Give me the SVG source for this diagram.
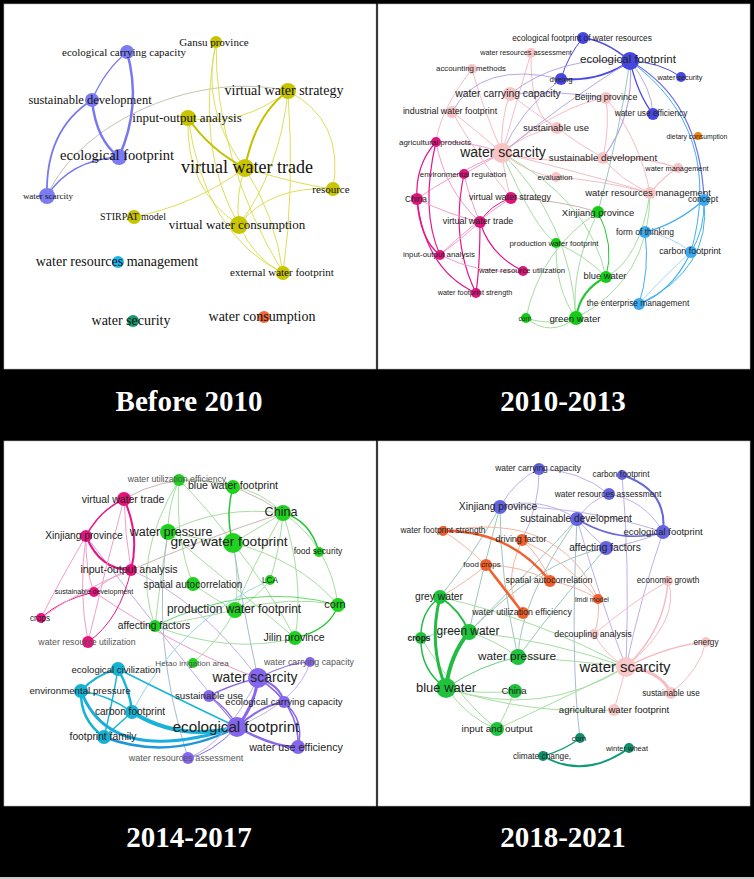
<svg xmlns="http://www.w3.org/2000/svg" width="754" height="879" viewBox="0 0 754 879">
<style>
.pn{fill:#fff;stroke:#bbb;stroke-width:0.6}
.lab{font-family:"Liberation Serif","Times New Roman",serif;font-weight:bold;font-size:29px;fill:#fff;text-anchor:middle}
.t1{font-family:"Liberation Serif","Times New Roman",serif;fill:#111;text-anchor:middle;dominant-baseline:central}
.t{font-family:"Liberation Sans",Arial,sans-serif;fill:#222;text-anchor:middle;dominant-baseline:central}
.tg{fill:#555}
path{fill:none;stroke-linecap:round}
.a1b{stroke:#7878f0}
.a1y{stroke:#dede58}
.a1Y{stroke:#c4c000}
.a1g{stroke:#c4c4ae}
.bl{stroke:#4a4ae6}
.pu{stroke:#a592e0;stroke-opacity:.8}
.pk{stroke:#f6bcc4}
.mg{stroke:#e6168a}
.lmg{stroke:#f29ccb}
.gr{stroke:#22c832}
.lgr{stroke:#a6dea0}
.lb{stroke:#40b0f0}
.llb{stroke:#a6d6f4}
.br{stroke:#cdb4b0}
.cy{stroke:#17b5d5}
.lcy{stroke:#98d8e8}
.pp{stroke:#8866ee}
.lpp{stroke:#c0b0e8}
.tl{stroke:#9cc8bc}
.or{stroke:#f06030}
.lor{stroke:#f6b4a2}
.g4{stroke:#22bb44}
.tq{stroke:#119a7a}
.gb{stroke:#a8bccc}
.c1b{fill:#7b7bf2}.c1y{fill:#c8c400}.c1c{fill:#1cb4ec}.c1t{fill:#139a6e}.c1o{fill:#f06a3c}
.c2b{fill:#4646e0}.c2p{fill:#f8c4c4}.c2m{fill:#e0147c}.c2o{fill:#f0840c}.c2g{fill:#14cc14}.c2l{fill:#3caaf0}
.c3m{fill:#e8127c}.c3g{fill:#1ed21e}.c3c{fill:#17b2d2}.c3p{fill:#8466ee}
.c4b{fill:#6464e0}.c4o{fill:#f0602c}.c4g{fill:#1ec23c}.c4p{fill:#f8c8c8}.c4t{fill:#0e8e6a}
</style>
<rect x="0" y="0" width="754" height="879" fill="#000"/>
<rect class="pn" x="4" y="4" width="372" height="365"/>
<rect class="pn" x="378" y="4" width="372" height="365"/>
<rect class="pn" x="4" y="441" width="372" height="365"/>
<rect class="pn" x="378" y="441" width="372" height="365"/>
<rect x="0" y="877" width="754" height="2" fill="#ccc"/>
<text class="lab" x="189" y="411">Before 2010</text>
<text class="lab" x="563" y="411">2010-2013</text>
<text class="lab" x="189" y="847">2014-2017</text>
<text class="lab" x="563" y="847">2018-2021</text>

<g id="connectors">
<g id="edges-before-2010">
<path class="a1g" stroke-width="1" d="M47,196 C80,120 200,70 288,91"/>
<path class="a1b" stroke-width="2.5" d="M127,52 Q142,105 119,157"/>
<path class="a1b" stroke-width="2.5" d="M92,100 Q96,140 119,157"/>
<path class="a1b" stroke-width="1.2" d="M127,52 Q105,70 92,100"/>
<path class="a1b" stroke-width="1.8" d="M92,100 Q45,130 47,196"/>
<path class="a1b" stroke-width="1.4" d="M119,157 Q70,160 47,196"/>
<path class="a1y" stroke-width="1" d="M216,42 Q200,110 245,168"/>
<path class="a1y" stroke-width="1" d="M216,42 Q195,150 239,225"/>
<path class="a1y" stroke-width="1" d="M216,42 Q215,160 283,273"/>
<path class="a1y" stroke-width="1" d="M188,118 Q240,128 288,91"/>
<path class="a1Y" stroke-width="2" d="M188,118 Q210,150 245,168"/>
<path class="a1Y" stroke-width="2" d="M288,91 Q255,115 245,168"/>
<path class="a1y" stroke-width="1" d="M288,91 Q345,120 333,189"/>
<path class="a1y" stroke-width="1" d="M288,91 Q280,170 239,225"/>
<path class="a1y" stroke-width="1" d="M188,118 Q185,190 239,225"/>
<path class="a1y" stroke-width="1" d="M188,118 Q205,235 283,273"/>
<path class="a1y" stroke-width="1" d="M245,168 Q300,185 333,189"/>
<path class="a1y" stroke-width="1" d="M239,225 Q270,185 333,189"/>
<path class="a1y" stroke-width="1" d="M239,225 Q255,260 283,273"/>
<path class="a1y" stroke-width="1" d="M288,91 Q295,190 283,273"/>
<path class="a1y" stroke-width="1" d="M134,217 Q195,205 245,168"/>
<path class="a1y" stroke-width="1" d="M245,168 Q235,195 239,225"/>
<path class="a1y" stroke-width="1" d="M245,168 Q275,215 283,273"/>
</g>
<g id="edges-2010-2013">
<path class="pk" stroke-width="1" d="M502,153 Q500,120 510,94"/>
<path class="pk" stroke-width="1" d="M502,153 Q530,130 557,128"/>
<path class="pk" stroke-width="1.2" d="M502,153 Q555,165 603,158"/>
<path class="pk" stroke-width="1" d="M502,153 Q470,125 452,112"/>
<path class="pk" stroke-width="1" d="M502,153 Q480,100 472,69"/>
<path class="pk" stroke-width="1" d="M502,153 Q520,90 531,53"/>
<path class="pk" stroke-width="1" d="M502,153 Q560,105 606,98"/>
<path class="pk" stroke-width="1" d="M502,153 Q530,175 556,177"/>
<path class="pk" stroke-width="1" d="M502,153 Q505,180 511,198"/>
<path class="pk" stroke-width="1" d="M502,153 Q590,175 650,193"/>
<path class="lmg" stroke-width="1" d="M502,153 Q470,140 436,142"/>
<path class="lmg" stroke-width="1" d="M502,153 Q450,175 417,199"/>
<path class="lmg" stroke-width="1" d="M502,153 Q480,165 464,174"/>
<path class="pk" stroke-width="1.2" d="M603,158 Q640,155 678,168"/>
<path class="pk" stroke-width="1" d="M603,158 Q620,180 650,193"/>
<path class="pk" stroke-width="1" d="M603,158 Q610,125 606,98"/>
<path class="pk" stroke-width="1" d="M557,128 Q580,145 603,158"/>
<path class="pk" stroke-width="1" d="M510,94 Q530,110 557,128"/>
<path class="pk" stroke-width="1" d="M556,177 Q600,180 650,193"/>
<path class="pk" stroke-width="1.2" d="M650,193 Q665,175 678,168"/>
<path class="pk" stroke-width="1" d="M606,98 Q640,140 650,193"/>
<path class="pk" stroke-width="1" d="M531,53 Q530,120 557,128"/>
<path class="pk" stroke-width="1" d="M472,69 Q440,110 436,142"/>
<path class="pk" stroke-width="1" d="M452,112 Q480,160 511,198"/>
<path class="pu" stroke-width="1" d="M510,94 Q560,90 606,98"/>
<path class="bl" stroke-width="1.5" d="M630,61 Q605,40 583,38"/>
<path class="bl" stroke-width="2" d="M630,61 Q600,82 561,79"/>
<path class="bl" stroke-width="1" d="M583,38 Q568,55 561,79"/>
<path class="bl" stroke-width="1" d="M630,61 Q660,62 681,77"/>
<path class="bl" stroke-width="1.2" d="M630,61 Q638,95 653,114"/>
<path class="pu" stroke-width="1" d="M630,61 Q652,88 653,114"/>
<path class="bl" stroke-width="1.2" stroke-opacity=".8" d="M630,61 Q700,100 704,200"/>
<path class="lb" stroke-width="1" d="M630,61 Q725,130 691,252"/>
<path class="pu" stroke-width="1.2" d="M630,61 Q635,115 603,158"/>
<path class="tl" stroke-width="1" d="M630,61 Q620,130 598,212"/>
<path class="pu" stroke-width="1" d="M510,94 Q560,55 630,61"/>
<path class="pu" stroke-width="1" d="M561,79 Q520,110 502,153"/>
<path class="pu" stroke-width="1" d="M630,61 Q560,105 502,153"/>
<path class="pu" stroke-width="1" d="M561,79 Q480,60 452,112"/>
<path class="mg" stroke-width="1.2" d="M436,142 Q415,165 417,199"/>
<path class="lmg" stroke-width="1" d="M436,142 Q445,190 480,222"/>
<path class="mg" stroke-width="1.2" d="M436,142 Q420,210 440,255"/>
<path class="mg" stroke-width="1.2" d="M464,174 Q450,240 476,293"/>
<path class="lmg" stroke-width="1" d="M464,174 Q470,200 480,222"/>
<path class="mg" stroke-width="1.5" d="M417,199 Q420,240 440,255"/>
<path class="mg" stroke-width="1.2" d="M417,199 Q425,270 476,293"/>
<path class="lmg" stroke-width="1" d="M480,222 Q460,240 440,255"/>
<path class="mg" stroke-width="1.2" d="M480,222 Q490,255 523,271"/>
<path class="mg" stroke-width="1.2" d="M480,222 Q480,265 476,293"/>
<path class="mg" stroke-width="1" d="M511,198 Q490,205 480,222"/>
<path class="lmg" stroke-width="1" d="M511,198 Q470,225 440,255"/>
<path class="lmg" stroke-width="1" d="M440,255 Q480,275 523,271"/>
<path class="lmg" stroke-width="1" d="M417,199 Q450,215 480,222"/>
<path class="br" stroke-width="1" d="M511,198 Q560,200 598,212"/>
<path class="lgr" stroke-width="1" d="M598,212 Q570,270 576,318"/>
<path class="lgr" stroke-width="1" d="M598,212 Q540,250 526,318"/>
<path class="gr" stroke-width="1" d="M598,212 Q615,245 606,277"/>
<path class="gr" stroke-width="2" d="M606,277 Q580,290 576,318"/>
<path class="lgr" stroke-width="1" d="M556,243 Q585,255 606,277"/>
<path class="lgr" stroke-width="1" d="M556,243 Q555,290 576,318"/>
<path class="lgr" stroke-width="1.2" d="M526,318 Q550,326 576,318"/>
<path class="lgr" stroke-width="1" d="M526,318 Q550,338 576,318"/>
<path class="lgr" stroke-width="1" d="M502,153 Q570,220 576,318"/>
<path class="lgr" stroke-width="1" d="M502,153 Q590,200 606,277"/>
<path class="lgr" stroke-width="1" d="M502,153 Q535,230 556,243"/>
<path class="lgr" stroke-width="1" d="M650,193 Q640,260 606,277"/>
<path class="lgr" stroke-width="1" d="M650,193 Q650,280 576,318"/>
<path class="lb" stroke-width="1.5" d="M704,200 Q675,225 645,232"/>
<path class="lb" stroke-width="1" d="M704,200 Q705,230 691,252"/>
<path class="lb" stroke-width="1" d="M704,200 Q712,270 639,304"/>
<path class="lb" stroke-width="1" d="M645,232 Q650,270 639,304"/>
<path class="llb" stroke-width="1" d="M645,232 Q670,235 691,252"/>
<path class="lb" stroke-width="1.2" d="M691,252 Q672,292 639,304"/>
<path class="llb" stroke-width="1" d="M691,252 Q660,280 639,304"/>
</g>
<g id="edges-2014-2017">
<path class="br" stroke-width="1" d="M124,499 Q200,455 283,513"/>
<path class="br" stroke-width="1" d="M131,570 Q200,540 283,513"/>
<path class="lpp" stroke-width="1" d="M131,570 Q200,600 258,678"/>
<path class="lpp" stroke-width="1" d="M86,536 Q150,620 237,727"/>
<path class="lmg" stroke-width="1" d="M94,592 Q180,650 258,678"/>
<path class="lgr" stroke-width="1" d="M283,513 Q260,490 233,487"/>
<path class="lgr" stroke-width="1" d="M283,513 Q255,530 233,543"/>
<path class="lgr" stroke-width="1" d="M283,513 Q330,545 338,605"/>
<path class="lgr" stroke-width="1" d="M283,513 Q305,580 295,638"/>
<path class="lgr" stroke-width="1" d="M283,513 Q250,570 235,610"/>
<path class="lgr" stroke-width="1" d="M283,513 Q220,505 168,532"/>
<path class="lgr" stroke-width="1" d="M283,513 Q280,550 270,580"/>
<path class="lgr" stroke-width="1" d="M233,487 Q205,478 179,480"/>
<path class="lgr" stroke-width="1" d="M179,480 Q205,505 233,543"/>
<path class="lgr" stroke-width="1" d="M179,480 Q168,505 168,532"/>
<path class="lgr" stroke-width="1" d="M179,480 Q175,540 193,584"/>
<path class="lgr" stroke-width="1" d="M233,543 Q240,580 235,610"/>
<path class="lgr" stroke-width="1" d="M233,543 Q300,560 338,605"/>
<path class="lgr" stroke-width="1" d="M233,543 Q270,590 295,638"/>
<path class="lgr" stroke-width="1" d="M235,610 Q190,620 155,626"/>
<path class="lgr" stroke-width="1" d="M235,610 Q290,595 338,605"/>
<path class="lgr" stroke-width="1" d="M155,626 Q230,655 295,638"/>
<path class="lgr" stroke-width="1" d="M193,584 Q215,600 235,610"/>
<path class="lgr" stroke-width="1" d="M168,532 Q200,540 233,543"/>
<path class="lgr" stroke-width="1" d="M168,532 Q160,580 155,626"/>
<path class="lgr" stroke-width="1" d="M270,580 Q255,600 235,610"/>
<path class="lgr" stroke-width="1" d="M193,663 Q220,640 235,610"/>
<path class="lgr" stroke-width="1" d="M168,532 Q250,600 295,638"/>
<path class="lgr" stroke-width="1" d="M179,480 Q130,560 155,626"/>
<path class="gb" stroke-width="1" d="M233,543 Q245,620 258,678"/>
<path class="gb" stroke-width="1" d="M168,532 Q150,640 188,758"/>
<path class="gr" stroke-width="1.5" d="M283,513 Q310,520 319,552"/>
<path class="gr" stroke-width="1.5" d="M233,487 Q225,515 233,543"/>
<path class="gr" stroke-width="1.2" d="M338,605 Q330,630 295,638"/>
<path class="gr" stroke-width="1" stroke-opacity=".7" d="M155,626 Q250,580 338,605"/>
<path class="mg" stroke-width="1.5" d="M124,499 Q100,510 86,536"/>
<path class="mg" stroke-width="2" d="M124,499 Q140,535 131,570"/>
<path class="lmg" stroke-width="1" d="M124,499 Q125,535 131,570"/>
<path class="mg" stroke-width="2" d="M86,536 Q100,570 131,570"/>
<path class="lmg" stroke-width="1" d="M86,536 Q78,590 88,642"/>
<path class="lmg" stroke-width="1" d="M86,536 Q85,570 94,592"/>
<path class="lmg" stroke-width="1" d="M86,536 Q60,580 41,618"/>
<path class="lmg" stroke-width="1" d="M131,570 Q110,575 94,592"/>
<path class="mg" stroke-width="1" d="M131,570 Q120,620 88,642"/>
<path class="mg" stroke-width="1" d="M94,592 Q60,600 41,618"/>
<path class="lmg" stroke-width="1" d="M131,570 Q80,590 41,618"/>
<path class="lmg" stroke-width="1" d="M124,499 Q105,570 88,642"/>
<path class="lcy" stroke-width="1" d="M270,580 Q180,620 132,712"/>
<path class="cy" stroke-width="2" d="M118,669 Q95,675 81,691"/>
<path class="cy" stroke-width="2.5" d="M118,669 Q130,690 132,712"/>
<path class="cy" stroke-width="1.5" d="M118,669 Q112,705 104,737"/>
<path class="cy" stroke-width="2.5" d="M81,691 Q80,720 104,737"/>
<path class="cy" stroke-width="1.5" d="M81,691 Q108,695 132,712"/>
<path class="cy" stroke-width="1.5" d="M132,712 Q118,725 104,737"/>
<path stroke="#1aaee0" stroke-width="3" d="M81,691 Q110,768 237,727"/>
<path stroke="#1ab2d8" stroke-width="4" d="M132,712 Q180,742 237,727"/>
<path stroke="#1e96d8" stroke-width="2.5" d="M104,737 Q170,762 237,727"/>
<path class="cy" stroke-width="1.5" d="M118,669 Q180,700 237,727"/>
<path class="pp" stroke-width="3" d="M258,678 Q255,705 237,727"/>
<path class="pp" stroke-width="1.5" d="M258,678 Q230,685 209,696"/>
<path class="pp" stroke-width="2" d="M258,678 Q280,685 284,702"/>
<path class="pp" stroke-width="1.5" d="M258,678 Q300,705 298,747"/>
<path class="pp" stroke-width="2" d="M237,727 Q262,705 284,702"/>
<path class="pp" stroke-width="2.5" d="M237,727 Q275,748 298,747"/>
<path class="pp" stroke-width="1.5" d="M284,702 Q305,720 298,747"/>
<path class="pp" stroke-width="1" d="M258,678 Q290,662 310,662"/>
<path class="pp" stroke-width="1" d="M237,727 Q220,705 209,696"/>
<path class="pp" stroke-width="1" d="M237,727 Q210,755 188,758"/>
<path class="pp" stroke-width="1.5" d="M209,696 Q230,710 237,727"/>
<path class="lpp" stroke-width="1" d="M258,678 Q225,745 188,758"/>
<path class="lpp" stroke-width="1" d="M237,727 Q300,700 310,662"/>
</g>
<g id="edges-2018-2021">
<path class="lpp" stroke-width="1" d="M609,494 Q645,500 663,532"/>
<path class="lpp" stroke-width="1" d="M609,494 Q590,500 577,519"/>
<path class="lpp" stroke-width="1" d="M539,469 Q580,470 609,494"/>
<path class="lpp" stroke-width="1" d="M539,469 Q540,505 522,540"/>
<path class="lpp" stroke-width="1" d="M539,469 Q515,480 500,507"/>
<path class="lpp" stroke-width="1" d="M500,507 Q540,495 577,519"/>
<path class="lpp" stroke-width="1" d="M500,507 Q580,505 663,532"/>
<path class="lpp" stroke-width="1" d="M577,519 Q590,535 606,548"/>
<path class="lpp" stroke-width="1" d="M663,532 Q630,545 606,548"/>
<path class="lpp" stroke-width="1" d="M663,532 Q640,600 626,667"/>
<path class="lpp" stroke-width="1" d="M577,519 Q600,600 626,667"/>
<path class="lpp" stroke-width="1" d="M622,475 Q630,560 626,667"/>
<path class="tl" stroke-width="1" d="M500,507 Q470,560 440,597"/>
<path class="tl" stroke-width="1" d="M500,507 Q480,580 469,632"/>
<path class="tl" stroke-width="1" d="M500,507 Q500,580 518,657"/>
<path class="tl" stroke-width="1" d="M577,519 Q540,560 469,632"/>
<path class="tl" stroke-width="1" d="M577,519 Q520,600 518,657"/>
<path class="tl" stroke-width="1" d="M606,548 Q540,560 469,632"/>
<path class="tl" stroke-width="1" d="M606,548 Q560,600 518,657"/>
<path class="gb" stroke-width="1" d="M580,738 Q570,660 577,519"/>
<path class="lor" stroke-width="1" d="M443,531 Q490,560 523,613"/>
<path class="lor" stroke-width="1" d="M486,565 Q520,565 550,581"/>
<path class="lor" stroke-width="1" d="M522,540 Q540,555 550,581"/>
<path class="lor" stroke-width="1" d="M443,531 Q560,510 598,599"/>
<path class="lor" stroke-width="1" d="M522,540 Q565,560 598,599"/>
<path class="lor" stroke-width="1" d="M550,581 Q575,585 598,599"/>
<path class="lor" stroke-width="1" d="M598,599 Q600,620 594,634"/>
<path class="lor" stroke-width="1" d="M522,540 Q500,590 523,613"/>
<path class="lor" stroke-width="1" d="M486,565 Q470,580 440,597"/>
<path class="or" stroke-width="2.5" d="M443,531 Q510,530 550,581"/>
<path class="or" stroke-width="2.5" d="M486,565 Q505,590 523,613"/>
<path class="lgr" stroke-width="1" d="M421,638 Q445,630 469,632"/>
<path class="lgr" stroke-width="1" d="M469,632 Q495,640 518,657"/>
<path class="lgr" stroke-width="1" d="M446,688 Q470,720 497,729"/>
<path class="lgr" stroke-width="1" d="M515,691 Q505,715 497,729"/>
<path class="lgr" stroke-width="1" d="M446,688 Q540,720 626,667"/>
<path class="lgr" stroke-width="1" d="M518,657 Q570,660 626,667"/>
<path class="lgr" stroke-width="1" d="M469,632 Q550,640 626,667"/>
<path class="lgr" stroke-width="1" d="M440,597 Q540,620 626,667"/>
<path class="lgr" stroke-width="1" d="M446,688 Q480,695 515,691"/>
<path class="lgr" stroke-width="1" d="M421,638 Q460,700 497,729"/>
<path class="lgr" stroke-width="1" d="M497,729 Q560,700 626,667"/>
<path class="lgr" stroke-width="1" d="M446,688 Q530,715 614,710"/>
<path class="g4" stroke-width="1" stroke-opacity=".7" d="M518,657 Q480,665 446,688"/>
<path class="g4" stroke-width="3" d="M440,597 Q428,645 446,688"/>
<path class="g4" stroke-width="4" d="M469,632 Q450,655 446,688"/>
<path class="g4" stroke-width="2" d="M440,597 Q460,610 469,632"/>
<path class="g4" stroke-width="1.5" d="M421,638 Q420,670 446,688"/>
<path class="g4" stroke-width="1.5" d="M421,638 Q420,612 440,597"/>
<path class="pk" stroke-width="1.5" d="M626,667 Q665,630 668,581"/>
<path class="pk" stroke-width="1" d="M626,667 Q682,620 668,581"/>
<path class="pk" stroke-width="1.5" d="M626,667 Q670,645 706,642"/>
<path class="pk" stroke-width="3" d="M626,667 Q660,670 671,693"/>
<path class="pk" stroke-width="1" d="M626,667 Q605,655 594,634"/>
<path class="pk" stroke-width="1" d="M626,667 Q620,690 614,710"/>
<path class="pk" stroke-width="1" d="M594,634 Q635,600 668,581"/>
<path class="pk" stroke-width="1" d="M671,693 Q700,670 706,642"/>
<path class="c4bs" stroke="#6666dd" stroke-width="2" d="M622,475 Q668,490 663,532"/>
<path stroke="#6666dd" stroke-width="1.5" d="M577,519 Q620,545 663,532"/>
<path class="tq" stroke-width="2" d="M543,756 Q585,780 629,748"/>
<path class="tq" stroke-width="1.2" d="M543,756 Q565,750 580,738"/>
</g>
</g>

<g id="nodes-before-2010">
<g id="n1-ecological-carrying-capacity"><circle class="c1b" cx="127" cy="52" r="7"/><text class="t1" x="124" y="52" font-size="11">ecological carrying capacity</text></g>
<g id="n1-gansu-province"><circle class="c1y" cx="216" cy="42" r="6"/><text class="t1" x="214" y="42" font-size="11">Gansu province</text></g>
<g id="n1-virtual-water-strategy"><circle class="c1y" cx="288" cy="91" r="8"/><text class="t1" x="284" y="90" font-size="14">virtual water strategy</text></g>
<g id="n1-sustainable-development"><circle class="c1b" cx="92" cy="100" r="7"/><text class="t1" x="90" y="100" font-size="12.5">sustainable development</text></g>
<g id="n1-input-output-analysis"><circle class="c1y" cx="188" cy="118" r="8"/><text class="t1" x="187" y="117" font-size="13">input-output analysis</text></g>
<g id="n1-ecological-footprint"><circle class="c1b" cx="119" cy="157" r="8"/><text class="t1" x="117" y="155" font-size="14.5">ecological footprint</text></g>
<g id="n1-virtual-water-trade"><circle class="c1y" cx="245" cy="168" r="9"/><text class="t1" x="247" y="167" font-size="18">virtual water trade</text></g>
<g id="n1-resource"><circle class="c1y" cx="333" cy="189" r="7"/><text class="t1" x="331" y="189" font-size="11">resource</text></g>
<g id="n1-water-scarcity"><circle class="c1b" cx="47" cy="196" r="8"/><text class="t1" x="48" y="196" font-size="9">water scarcity</text></g>
<g id="n1-stirpat-model"><circle class="c1y" cx="134" cy="217" r="7"/><text class="t1" x="133" y="216" font-size="10">STIRPAT model</text></g>
<g id="n1-virtual-water-consumption"><circle class="c1y" cx="239" cy="225" r="9"/><text class="t1" x="237" y="224" font-size="13">virtual water consumption</text></g>
<g id="n1-water-resources-management"><circle class="c1c" cx="118" cy="262" r="6"/><text class="t1" x="117" y="261" font-size="14">water resources management</text></g>
<g id="n1-external-water-footprint"><circle class="c1y" cx="283" cy="273" r="7"/><text class="t1" x="282" y="272" font-size="11">external water footprint</text></g>
<g id="n1-water-security"><circle class="c1t" cx="133" cy="321" r="6"/><text class="t1" x="131" y="320" font-size="14">water security</text></g>
<g id="n1-water-consumption"><circle class="c1o" cx="264" cy="317" r="6"/><text class="t1" x="262" y="316" font-size="14">water consumption</text></g>
</g>

<g id="nodes-2010-2013">
<g id="n2-ecological-footprint-of-water-resources"><circle class="c2b" cx="583" cy="38" r="6"/><text class="t" x="582" y="38" font-size="8.3">ecological footprint of water resources</text></g>
<g id="n2-water-resources-assessment"><circle class="c2p" cx="531" cy="53" r="5"/><text class="t" x="526" y="52" font-size="7.2">water resources assessment</text></g>
<g id="n2-ecological-footprint"><circle class="c2b" cx="630" cy="61" r="9"/><text class="t" x="628" y="59" font-size="11.5">ecological footprint</text></g>
<g id="n2-accounting-methods"><circle class="c2p" cx="472" cy="69" r="5"/><text class="t" x="471" y="68" font-size="7.8">accounting methods</text></g>
<g id="n2-dyeing"><circle class="c2b" cx="561" cy="79" r="6"/><text class="t" x="561" y="79" font-size="7.8">dyeing</text></g>
<g id="n2-water-security"><circle class="c2b" cx="681" cy="77" r="5"/><text class="t" x="680" y="77" font-size="7.3">water security</text></g>
<g id="n2-water-carrying-capacity"><circle class="c2p" cx="510" cy="94" r="7"/><text class="t" x="508" y="93" font-size="10.3">water carrying capacity</text></g>
<g id="n2-beijing-province"><circle class="c2p" cx="606" cy="98" r="6"/><text class="t" x="606" y="97" font-size="8.9">Beijing province</text></g>
<g id="n2-industrial-water-footprint"><circle class="c2p" cx="452" cy="112" r="6"/><text class="t" x="450" y="111" font-size="8.9">industrial water footprint</text></g>
<g id="n2-water-use-efficiency"><circle class="c2b" cx="653" cy="114" r="6"/><text class="t" x="651" y="113" font-size="8.3">water use efficiency</text></g>
<g id="n2-sustainable-use"><circle class="c2p" cx="557" cy="128" r="6"/><text class="t" x="556" y="127" font-size="9.5">sustainable use</text></g>
<g id="n2-agricultural-products"><circle class="c2m" cx="436" cy="142" r="5"/><text class="t" x="435" y="142" font-size="8">agricultural products</text></g>
<g id="n2-dietary-consumption"><circle class="c2o" cx="698" cy="136" r="4"/><text class="t" x="697" y="136" font-size="6.8">dietary consumption</text></g>
<g id="n2-water-scarcity"><circle class="c2p" cx="502" cy="153" r="10"/><text class="t" x="503" y="152" font-size="14">water scarcity</text></g>
<g id="n2-sustainable-development"><circle class="c2p" cx="603" cy="158" r="6"/><text class="t" x="603" y="157" font-size="9.8">sustainable development</text></g>
<g id="n2-water-management"><circle class="c2p" cx="678" cy="168" r="5"/><text class="t" x="677" y="168" font-size="7.4">water management</text></g>
<g id="n2-environmental-regulation"><circle class="c2m" cx="464" cy="174" r="5"/><text class="t" x="463" y="174" font-size="7.9">environmental regulation</text></g>
<g id="n2-evaluation"><circle class="c2p" cx="556" cy="177" r="5"/><text class="t" x="555" y="177" font-size="7.7">evaluation</text></g>
<g id="n2-water-resources-management"><circle class="c2p" cx="650" cy="193" r="6"/><text class="t" x="648" y="192" font-size="9.5">water resources management</text></g>
<g id="n2-concept"><circle class="c2l" cx="704" cy="200" r="6"/><text class="t" x="703" y="199" font-size="8.6">concept</text></g>
<g id="n2-china"><circle class="c2m" cx="417" cy="199" r="6"/><text class="t" x="416" y="199" font-size="8.4">China</text></g>
<g id="n2-virtual-water-strategy"><circle class="c2m" cx="511" cy="198" r="6"/><text class="t" x="510" y="197" font-size="8.9">virtual water strategy</text></g>
<g id="n2-xinjiang-province"><circle class="c2g" cx="598" cy="212" r="6"/><text class="t" x="598" y="212" font-size="9.5">Xinjiang province</text></g>
<g id="n2-virtual-water-trade"><circle class="c2m" cx="480" cy="222" r="6"/><text class="t" x="478" y="221" font-size="8.9">virtual water trade</text></g>
<g id="n2-form-of-thinking"><circle class="c2l" cx="645" cy="232" r="6"/><text class="t" x="645" y="232" font-size="8.5">form of thinking</text></g>
<g id="n2-production-water-footprint"><circle class="c2g" cx="556" cy="243" r="5"/><text class="t" x="554" y="243" font-size="7.9">production water footprint</text></g>
<g id="n2-carbon-footprint"><circle class="c2l" cx="691" cy="252" r="6"/><text class="t" x="690" y="251" font-size="8.9">carbon footprint</text></g>
<g id="n2-input-output-analysis"><circle class="c2m" cx="440" cy="255" r="5"/><text class="t" x="439" y="254" font-size="7.85">input-output analysis</text></g>
<g id="n2-water-resource-utilization"><circle class="c2m" cx="523" cy="271" r="5"/><text class="t" x="522" y="270" font-size="7.8">water resource utilization</text></g>
<g id="n2-blue-water"><circle class="c2g" cx="606" cy="277" r="6"/><text class="t" x="605" y="276" font-size="9.3">blue water</text></g>
<g id="n2-water-footprint-strength"><circle class="c2m" cx="476" cy="293" r="5"/><text class="t" x="475" y="292" font-size="7.3">water footprint strength</text></g>
<g id="n2-the-enterprise-management"><circle class="c2l" cx="639" cy="304" r="6"/><text class="t" x="638" y="303" font-size="8.4">the enterprise management</text></g>
<g id="n2-corn"><circle class="c2g" cx="526" cy="318" r="5"/><text class="t" x="525" y="318" font-size="6.7">corn</text></g>
<g id="n2-green-water"><circle class="c2g" cx="576" cy="318" r="7"/><text class="t" x="575" y="318" font-size="9.7">green water</text></g>
</g>

<g id="nodes-2014-2017">
<g id="n3-water-utilization-efficiency"><circle class="c3g" cx="179" cy="480" r="6"/><text class="t tg" x="177" y="479" font-size="8.7">water utilization efficiency</text></g>
<g id="n3-blue-water-footprint"><circle class="c3g" cx="233" cy="487" r="7"/><text class="t" x="233" y="485" font-size="10.6">blue water footprint</text></g>
<g id="n3-virtual-water-trade"><circle class="c3m" cx="124" cy="499" r="7"/><text class="t" x="123" y="499" font-size="10.4">virtual water trade</text></g>
<g id="n3-china"><circle class="c3g" cx="283" cy="513" r="8"/><text class="t" x="281" y="512" font-size="12.6">China</text></g>
<g id="n3-water-pressure"><circle class="c3g" cx="168" cy="532" r="8"/><text class="t" x="171" y="532" font-size="12.5">water pressure</text></g>
<g id="n3-grey-water-footprint"><circle class="c3g" cx="233" cy="543" r="10"/><text class="t" x="229" y="541" font-size="13.7">grey water footprint</text></g>
<g id="n3-xinjiang-province"><circle class="c3m" cx="86" cy="536" r="6"/><text class="t" x="84" y="535" font-size="10.2">Xinjiang province</text></g>
<g id="n3-food-security"><circle class="c3g" cx="319" cy="552" r="5"/><text class="t" x="318" y="551" font-size="8.6">food security</text></g>
<g id="n3-input-output-analysis"><circle class="c3m" cx="131" cy="570" r="6"/><text class="t" x="129" y="569" font-size="10.6">input-output analysis</text></g>
<g id="n3-sustainable-development"><circle class="c3m" cx="94" cy="592" r="5"/><text class="t" x="94" y="592" font-size="7.1">sustainable development</text></g>
<g id="n3-spatial-autocorrelation"><circle class="c3g" cx="193" cy="584" r="7"/><text class="t" x="193" y="584" font-size="10.1">spatial autocorrelation</text></g>
<g id="n3-lca"><circle class="c3g" cx="270" cy="580" r="5"/><text class="t" x="270" y="580" font-size="8.2">LCA</text></g>
<g id="n3-crops"><circle class="c3m" cx="41" cy="618" r="5"/><text class="t" x="40" y="618" font-size="8.2">crops</text></g>
<g id="n3-production-water-footprint"><circle class="c3g" cx="235" cy="610" r="8"/><text class="t" x="234" y="609" font-size="11.9">production water footprint</text></g>
<g id="n3-corn"><circle class="c3g" cx="338" cy="605" r="7"/><text class="t" x="335" y="604" font-size="11">corn</text></g>
<g id="n3-affecting-factors"><circle class="c3g" cx="155" cy="626" r="6"/><text class="t" x="154" y="625" font-size="10.3">affecting factors</text></g>
<g id="n3-jilin-province"><circle class="c3g" cx="295" cy="638" r="7"/><text class="t" x="294" y="637" font-size="10.6">Jilin province</text></g>
<g id="n3-water-resource-utilization"><circle class="c3m" cx="88" cy="642" r="6"/><text class="t tg" x="87" y="642" font-size="8.8">water resource utilization</text></g>
<g id="n3-water-carrying-capacity"><circle class="c3p" cx="310" cy="662" r="5"/><text class="t tg" x="309" y="662" font-size="8.8">water carrying capacity</text></g>
<g id="n3-hetao-irrigation-area"><circle class="c3g" cx="193" cy="663" r="5"/><text class="t tg" x="192" y="663" font-size="8.1">Hetao irrigation area</text></g>
<g id="n3-ecological-civilization"><circle class="c3c" cx="118" cy="669" r="7"/><text class="t" x="116" y="669" font-size="9.6">ecological civilization</text></g>
<g id="n3-water-scarcity"><circle class="c3p" cx="258" cy="678" r="10"/><text class="t" x="255" y="677" font-size="13.9">water scarcity</text></g>
<g id="n3-environmental-pressure"><circle class="c3c" cx="81" cy="691" r="7"/><text class="t" x="80" y="690" font-size="9.7">environmental pressure</text></g>
<g id="n3-sustainable-use"><circle class="c3p" cx="209" cy="696" r="6"/><text class="t" x="209" y="695" font-size="9.8">sustainable use</text></g>
<g id="n3-ecological-carrying-capacity"><circle class="c3p" cx="284" cy="702" r="6"/><text class="t" x="284" y="701" font-size="9.6">ecological carrying capacity</text></g>
<g id="n3-carbon-footprint"><circle class="c3c" cx="132" cy="712" r="7"/><text class="t" x="130" y="711" font-size="10.1">carbon footprint</text></g>
<g id="n3-ecological-footprint"><circle class="c3p" cx="237" cy="727" r="10"/><text class="t" x="236" y="726" font-size="15.2">ecological footprint</text></g>
<g id="n3-footprint-family"><circle class="c3c" cx="104" cy="737" r="7"/><text class="t" x="103" y="736" font-size="10.3">footprint family</text></g>
<g id="n3-water-use-efficiency"><circle class="c3p" cx="298" cy="747" r="7"/><text class="t" x="296" y="747" font-size="10.7">water use efficiency</text></g>
<g id="n3-water-resources-assessment"><circle class="c3p" cx="188" cy="758" r="6"/><text class="t tg" x="186" y="758" font-size="9">water resources assessment</text></g>
</g>

<g id="nodes-2018-2021">
<g id="n4-water-carrying-capacity"><circle class="c4b" cx="539" cy="469" r="6"/><text class="t" x="538" y="468" font-size="8.4">water carrying capacity</text></g>
<g id="n4-carbon-footprint"><circle class="c4b" cx="622" cy="475" r="5"/><text class="t" x="621" y="474" font-size="8.2">carbon footprint</text></g>
<g id="n4-water-resources-assessment"><circle class="c4b" cx="609" cy="494" r="6"/><text class="t" x="608" y="494" font-size="8.4">water resources assessment</text></g>
<g id="n4-xinjiang-province"><circle class="c4b" cx="500" cy="507" r="7"/><text class="t" x="498" y="506" font-size="10.3">Xinjiang province</text></g>
<g id="n4-sustainable-development"><circle class="c4b" cx="577" cy="519" r="7"/><text class="t" x="576" y="518" font-size="10.1">sustainable development</text></g>
<g id="n4-ecological-footprint"><circle class="c4b" cx="663" cy="532" r="7"/><text class="t" x="663" y="531" font-size="9.5">ecological footprint</text></g>
<g id="n4-water-footprint-strength"><circle class="c4o" cx="443" cy="531" r="5"/><text class="t" x="443" y="530" font-size="8.3">water footprint strength</text></g>
<g id="n4-driving-factor"><circle class="c4o" cx="522" cy="540" r="6"/><text class="t" x="521" y="539" font-size="8.9">driving factor</text></g>
<g id="n4-affecting-factors"><circle class="c4b" cx="606" cy="548" r="7"/><text class="t" x="605" y="547" font-size="10.2">affecting factors</text></g>
<g id="n4-food-crops"><circle class="c4o" cx="486" cy="565" r="6"/><text class="t" x="482" y="564" font-size="8">food crops</text></g>
<g id="n4-spatial-autocorrelation"><circle class="c4o" cx="550" cy="581" r="6"/><text class="t" x="549" y="580" font-size="8.9">spatial autocorrelation</text></g>
<g id="n4-economic-growth"><circle class="c4p" cx="668" cy="581" r="5"/><text class="t" x="668" y="580" font-size="8.3">economic growth</text></g>
<g id="n4-grey-water"><circle class="c4g" cx="440" cy="597" r="7"/><text class="t" x="439" y="596" font-size="10.3">grey water</text></g>
<g id="n4-lmdi-model"><circle class="c4o" cx="598" cy="599" r="5"/><text class="t" x="592" y="599" font-size="7">lmdi model</text></g>
<g id="n4-water-utilization-efficiency"><circle class="c4o" cx="523" cy="613" r="6"/><text class="t" x="522" y="612" font-size="8.8">water utilization efficiency</text></g>
<g id="n4-green-water"><circle class="c4g" cx="469" cy="632" r="8"/><text class="t" x="468" y="631" font-size="11.9">green water</text></g>
<g id="n4-decoupling-analysis"><circle class="c4p" cx="594" cy="634" r="5"/><text class="t" x="593" y="634" font-size="8.9">decoupling analysis</text></g>
<g id="n4-crops"><circle class="c4g" cx="421" cy="638" r="6"/><text class="t" x="419" y="638" font-size="8.5" font-weight="bold">crops</text></g>
<g id="n4-energy"><circle class="c4p" cx="706" cy="642" r="5"/><text class="t" x="706" y="642" font-size="8.2">energy</text></g>
<g id="n4-water-pressure"><circle class="c4g" cx="518" cy="657" r="8"/><text class="t" x="517" y="656" font-size="11.8">water pressure</text></g>
<g id="n4-water-scarcity"><circle class="c4p" cx="626" cy="667" r="10"/><text class="t" x="625" y="667" font-size="14.9">water scarcity</text></g>
<g id="n4-blue-water"><circle class="c4g" cx="446" cy="688" r="10"/><text class="t" x="446" y="687" font-size="13">blue water</text></g>
<g id="n4-china"><circle class="c4g" cx="515" cy="691" r="7"/><text class="t" x="514" y="690" font-size="9.6">China</text></g>
<g id="n4-sustainable-use"><circle class="c4p" cx="671" cy="693" r="6"/><text class="t" x="671" y="693" font-size="8.3">sustainable use</text></g>
<g id="n4-agricultural-water-footprint"><circle class="c4p" cx="614" cy="710" r="6"/><text class="t" x="614" y="709" font-size="9.6">agricultural water footprint</text></g>
<g id="n4-input-and-output"><circle class="c4g" cx="497" cy="729" r="7"/><text class="t" x="497" y="728" font-size="9.9">input and output</text></g>
<g id="n4-corn"><circle class="c4t" cx="580" cy="738" r="5"/><text class="t" x="579" y="738" font-size="7.5">corn</text></g>
<g id="n4-winter-wheat"><circle class="c4t" cx="629" cy="748" r="5"/><text class="t" x="627" y="748" font-size="7.5">winter wheat</text></g>
<g id="n4-climate-change"><circle class="c4t" cx="543" cy="756" r="5"/><text class="t" x="542" y="756" font-size="8.3">climate change,</text></g>
</g>
</svg>
